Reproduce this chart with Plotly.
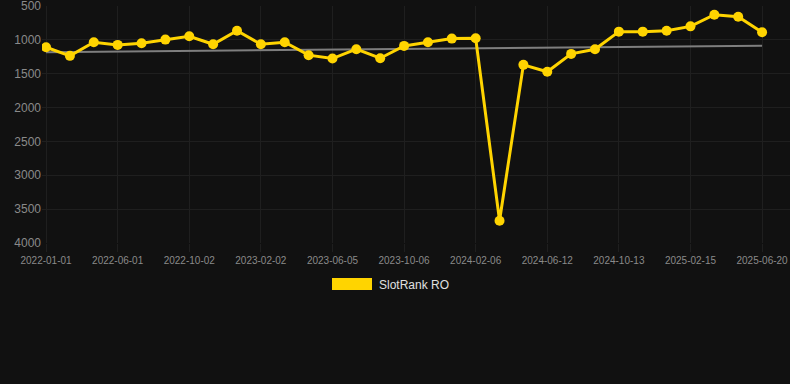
import plotly.graph_objects as go

dates = [
    "2022-01-01", "2022-02-20", "2022-04-11", "2022-06-01", "2022-07-12", "2022-08-22",
    "2022-10-02", "2022-11-12", "2022-12-23", "2023-02-02", "2023-03-15", "2023-04-25",
    "2023-06-05", "2023-07-16", "2023-08-26", "2023-10-06", "2023-11-16", "2023-12-27",
    "2024-02-06", "2024-03-19", "2024-05-01", "2024-06-12", "2024-07-23", "2024-09-02",
    "2024-10-13", "2024-11-23", "2025-01-04", "2025-02-15", "2025-03-28", "2025-05-09",
    "2025-06-20",
]
rank = [
    1108, 1235, 1034, 1073, 1049, 995, 946, 1064, 863, 1064, 1034, 1225,
    1275, 1137, 1270, 1088, 1034, 980, 975, 3672, 1368, 1471, 1206, 1137,
    877, 877, 863, 799, 627, 657, 887,
]
trend_dates = [dates[0], dates[-1]]
trend_values = [1180, 1085]

tick_labels = dates[::3]
y_ticks = [500, 1000, 1500, 2000, 2500, 3000, 3500, 4000]
series_name = "SlotRank RO"

bg = "#111111"
grid = "#1f1f1f"
yellow = "#FFD400"

fig = go.Figure()
fig.add_trace(go.Scatter(
    x=trend_dates, y=trend_values, mode="lines",
    line=dict(color="#7e7e7e", width=2), showlegend=False, hoverinfo="skip",
))
fig.add_trace(go.Scatter(
    x=dates, y=rank, mode="lines+markers", name=series_name,
    line=dict(color=yellow, width=3),
    marker=dict(color=yellow, size=10),
    showlegend=False,
))

fig.update_layout(
    width=790, height=384,
    paper_bgcolor=bg, plot_bgcolor=bg,
    margin=dict(l=42, r=0, t=6, b=141),
    font=dict(family="Liberation Sans, Arial, sans-serif", color="#8a8a8a"),
    xaxis=dict(
        type="category",
        categoryorder="array", categoryarray=dates,
        range=[-0.17, 31.17],
        tickvals=tick_labels, ticktext=tick_labels,
        tickfont=dict(size=10, color="#8a8a8a"),
        showgrid=True, gridcolor=grid, gridwidth=1,
        ticks="outside", ticklen=8, tickcolor=grid,
        showline=False, zeroline=False,
        ticklabeloverflow="allow",
    ),
    yaxis=dict(
        range=[4002, 498],
        tickvals=y_ticks,
        tickfont=dict(size=12, color="#8a8a8a"),
        showgrid=True, gridcolor=grid, gridwidth=1,
        ticks="", showline=False, zeroline=False,
        ticklabeloverflow="allow",
    ),
    shapes=[dict(
        type="rect", xref="paper", yref="paper",
        x0=(332 - 42) / 748, x1=(372 - 42) / 748,
        y0=(243 - 290) / 237, y1=(243 - 278) / 237,
        fillcolor=yellow, line=dict(width=0),
    )],
    annotations=[dict(
        text=series_name, xref="paper", yref="paper",
        x=(377 - 42) / 748, y=(243 - 284.5) / 237,
        xanchor="left", yanchor="middle", showarrow=False,
        font=dict(size=12, color="#e0e0e0", family="Liberation Sans, Arial, sans-serif"),
    )],
)

fig.write_html(
    "out.html",
    config={"displayModeBar": False},
    post_script="document.body.style.margin='0';document.body.style.background='#111111';",
)
